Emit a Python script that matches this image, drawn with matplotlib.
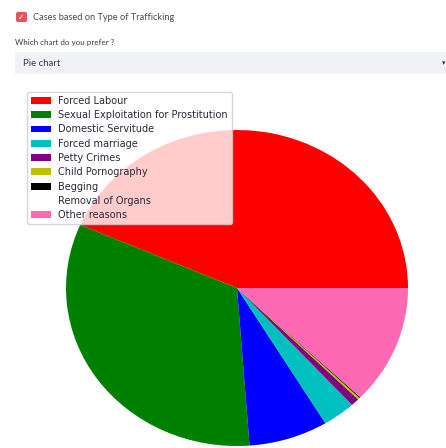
import matplotlib
matplotlib.use("Agg")
import matplotlib.pyplot as plt
from matplotlib.patches import FancyBboxPatch, Rectangle

# share of cases per type of trafficking (percent)
labels = [
    "Forced Labour",
    "Sexual Exploitation for Prostitution",
    "Domestic Servitude",
    "Forced marriage",
    "Petty Crimes",
    "Child Pornography",
    "Begging",
    "Removal of Organs",
    "Other reasons",
]
cases = [43.6, 32.8, 7.5, 3.1, 0.8, 0.2, 0.1, 0.0, 12.2]
colors = ["red", "green", "blue", "c", "purple", "y", "black", "white", "hotpink"]

W, H = 446, 448
fig = plt.figure(figsize=(W / 100, H / 100), dpi=100)
fig.patch.set_facecolor("white")


def fx(px):
    return px / W


def fy(py):
    return 1 - py / H


# page header: checkbox, caption, select box
fig.patches.append(FancyBboxPatch((fx(16), fy(22)), fx(11), 10 / H,
                                  boxstyle="round,pad=0,rounding_size=0.004",
                                  transform=fig.transFigure, facecolor="#e8545c",
                                  edgecolor="none"))
fig.text(fx(21.5), fy(17), "\u2713", color="white", fontsize=5.5,
         ha="center", va="center", fontweight="bold")
fig.text(fx(33), fy(17), "Cases based on Type of Trafficking", fontsize=6.7,
         color="#4a4a55", va="center", family="Lato")
fig.text(fx(15), fy(42), "Which chart do you prefer ?", fontsize=5.8,
         color="#3a3a45", va="center", family="Lato")
fig.patches.append(Rectangle((fx(15), fy(74)), fx(440), 22 / H,
                             transform=fig.transFigure, facecolor="#f0f2f6",
                             edgecolor="none"))
fig.text(fx(23), fy(63), "Pie chart", fontsize=6.9, color="#3a3a45",
         va="center", family="Lato")
fig.text(fx(444), fy(63), "\u25be", fontsize=5, color="#333333",
         va="center", ha="center")

# pie, stretched to fill its axes box
cx, cy, rx, ry = 237, 288, 171, 158
ax = fig.add_axes([fx(cx - rx), fy(cy + ry), 2 * rx / W, 2 * ry / H])
wedges, _ = ax.pie(cases, colors=colors, startangle=0, counterclock=True)
ax.set_aspect("auto")
ax.set_xlim(-1, 1)
ax.set_ylim(-1, 1)

ax.legend(wedges, labels, loc="upper left", bbox_to_anchor=(fx(27), fy(92)),
          bbox_transform=fig.transFigure, borderaxespad=0, fontsize=7.0,
          handlelength=2.1, labelspacing=0.44, handletextpad=0.7,
          labelcolor="#2a2a3a")

fig.savefig("out.png", dpi=100)
